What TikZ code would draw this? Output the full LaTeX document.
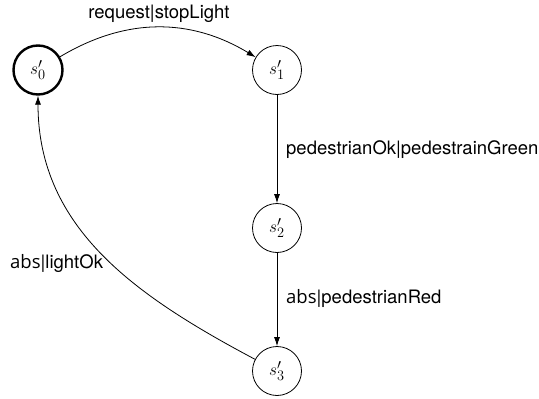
\documentclass[tikz,border=0pt]{standalone}
\usepackage{fontspec}
\setsansfont{TeX Gyre Heros}
\newfontfamily\absfont{Open Sans}
\usetikzlibrary{arrows.meta}
\begin{document}
\begin{tikzpicture}[x=1pt,y=-1pt,
  state/.style={circle,draw,line width=0.8pt,minimum size=49pt,inner sep=0pt,font=\fontsize{19}{21}\selectfont},
  initstate/.style={state,line width=2.4pt},
  edge/.style={line width=0.8pt,-{Latex[length=9pt,width=6pt]}},
  lbl/.style={font=\sffamily\fontsize{18.5}{21}\selectfont,inner sep=0pt}]
\useasboundingbox (0,0) rectangle (539,399);
\node[initstate] (s0) at (38,70) {$s'_0$};
\node[state] (s1) at (277,70) {$s'_1$};
\node[state] (s2) at (277,228) {$s'_2$};
\node[state] (s3) at (277,371) {$s'_3$};
\draw[edge] (s0) to[bend left=31] (s1);
\draw[edge] (s1) -- (s2);
\draw[edge] (s2) -- (s3);
\draw[edge] (s3) to[out=152,in=-90] (s0);
\node[lbl] (l1) at (159,14) {request|stopLight};
\node[lbl,anchor=west] (l2) at (286,150) {pedestrianOk|pedestrainGreen};
\node[lbl,anchor=west] (l3) at (286,298) {{\absfont abs}|pedestrianRed};
\node[lbl,anchor=west] (l4) at (10,263) {{\absfont abs}|lightOk};
\end{tikzpicture}
\end{document}
